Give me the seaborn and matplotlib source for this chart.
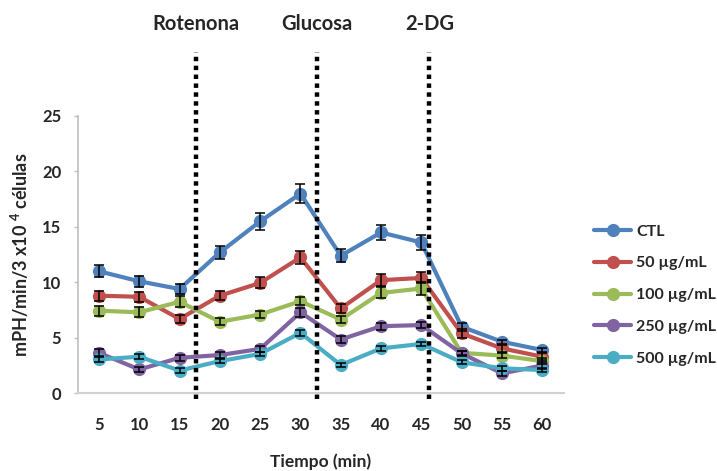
import matplotlib
matplotlib.use("Agg")
import matplotlib.pyplot as plt
import seaborn as sns
import pandas as pd
import numpy as np

# Time points (min) and series
tiempo = [5, 10, 15, 20, 25, 30, 35, 40, 45, 50, 55, 60]
grupos = ["CTL", "50 µg/mL", "100 µg/mL", "250 µg/mL", "500 µg/mL"]

ctl = [11.0, 10.1, 9.4, 12.7, 15.5, 18.0, 12.4, 14.5, 13.6, 6.0, 4.65, 3.9]
d50 = [8.8, 8.7, 6.7, 8.8, 9.95, 12.25, 7.65, 10.2, 10.4, 5.4, 4.05, 3.3]
d100 = [7.45, 7.3, 8.25, 6.45, 7.1, 8.3, 6.65, 9.05, 9.45, 3.65, 3.4, 2.9]
d250 = [3.65, 2.15, 3.2, 3.45, 4.0, 7.3, 4.85, 6.05, 6.15, 3.6, 1.8, 2.5]
d500 = [3.05, 3.3, 2.05, 2.9, 3.55, 5.45, 2.55, 4.05, 4.45, 2.8, 2.25, 2.1]

err_ctl = [0.55, 0.5, 0.45, 0.6, 0.75, 0.85, 0.6, 0.65, 0.7, 0.35, 0.2, 0.2]
err_50 = [0.45, 0.45, 0.35, 0.4, 0.5, 0.6, 0.4, 0.55, 0.5, 0.4, 0.3, 0.3]
err_100 = [0.45, 0.45, 0.5, 0.3, 0.3, 0.35, 0.35, 0.5, 0.55, 0.2, 0.2, 0.25]
err_250 = [0.3, 0.25, 0.25, 0.25, 0.3, 0.4, 0.35, 0.3, 0.25, 0.2, 0.2, 0.35]
err_500 = [0.2, 0.2, 0.2, 0.2, 0.2, 0.25, 0.2, 0.2, 0.2, 0.2, 0.2, 0.2]

# Treatment injections (min) and their labels
tratamiento_t = [17, 32, 46]
tratamiento_lbl = ["Rotenona", "Glucosa", "2-DG"]

colores = ["#4F81BD", "#C0504D", "#9BBB59", "#8064A2", "#4BACC6"]
y_ticks = [0, 5, 10, 15, 20, 25]

valores = [ctl, d50, d100, d250, d500]
errores = [err_ctl, err_50, err_100, err_250, err_500]

df = pd.concat(
    [pd.DataFrame({"Tiempo": tiempo, "valor": v, "err": e, "grupo": g})
     for g, v, e in zip(grupos, valores, errores)],
    ignore_index=True,
)

sns.set_theme(style="white")
plt.rcParams["font.family"] = ["Lato", "DejaVu Sans"]
plt.rcParams["font.weight"] = "bold"
plt.rcParams["mathtext.fontset"] = "custom"
plt.rcParams["mathtext.rm"] = "Lato:bold"
plt.rcParams["mathtext.bf"] = "Lato:bold"
txt = "#262626"

fig = plt.figure(figsize=(7.17, 4.71), dpi=100)
ax = fig.add_axes([78 / 717, 1 - 393.3 / 471, (564 - 78) / 717, (393.3 - 116) / 471])

sns.lineplot(
    data=df, x="Tiempo", y="valor", hue="grupo", hue_order=grupos,
    palette=colores, marker="o", markersize=9.5, linewidth=3,
    markeredgewidth=0, ax=ax, legend=True, zorder=2,
)

for g in grupos:
    sub = df[df["grupo"] == g]
    ax.errorbar(sub["Tiempo"], sub["valor"], yerr=sub["err"], fmt="none",
                ecolor="black", elinewidth=1.1, capsize=3.5, capthick=1.1,
                zorder=3)

ax.set_xlim(2.4, 62.7)
ax.set_ylim(0, 25)
ax.set_xticks(tiempo)
ax.set_xticklabels([str(t) for t in tiempo])
ax.set_yticks(y_ticks)

for s in ["top", "right"]:
    ax.spines[s].set_visible(False)
ax.spines["left"].set_color("#BFBFBF")
ax.spines["bottom"].set_color("#D0D0D0")
ax.spines["left"].set_linewidth(1.2)
ax.spines["bottom"].set_linewidth(1.5)

ax.tick_params(axis="y", length=3, width=1, color="#BFBFBF", pad=9,
               labelsize=12, labelcolor=txt, left=True)
ax.tick_params(axis="x", length=0, pad=17, labelsize=12, labelcolor=txt)
for lab in ax.get_xticklabels() + ax.get_yticklabels():
    lab.set_fontweight("bold")

# Vertical dotted markers for each treatment, extending above the plot
trans = ax.get_xaxis_transform()
span = 393.3 - 116
y_top = (393.3 - 52) / span
y_bot = -(399 - 393.3) / span
for t, lbl in zip(tratamiento_t, tratamiento_lbl):
    ax.plot([t, t], [y_bot, y_top], transform=trans, color="black",
            linestyle=(0, (1, 1)), linewidth=3.2, clip_on=False, zorder=4)
    ax.text(t, (393.3 - 24) / span, lbl, transform=trans,
            ha="center", va="center", fontsize=14.5, fontweight="bold",
            color=txt)

ax.set_xlabel("Tiempo (min)", fontsize=12.5, fontweight="bold", color=txt)
ax.xaxis.set_label_coords(0.5, -(462 - 393.3) / span)
ax.xaxis.label.set_va("center")
ax.set_ylabel("mPH/min/3 x10 $^{4}$ células", fontsize=13,
              fontweight="bold", color=txt)
ax.yaxis.set_label_coords(-(78 - 20) / 486, 0.5)
ax.yaxis.label.set_va("center")

handles, labels = ax.get_legend_handles_labels()
ax.legend_.remove()
leg = fig.legend(
    handles, labels, loc="center left",
    bbox_to_anchor=(580 / 717, 1 - 295 / 471), frameon=False,
    fontsize=11.5, handlelength=2.3, handletextpad=0.3, labelspacing=1.1,
)
for t in leg.get_texts():
    t.set_fontweight("bold")
    t.set_color(txt)

fig.savefig("out.png", dpi=100)
